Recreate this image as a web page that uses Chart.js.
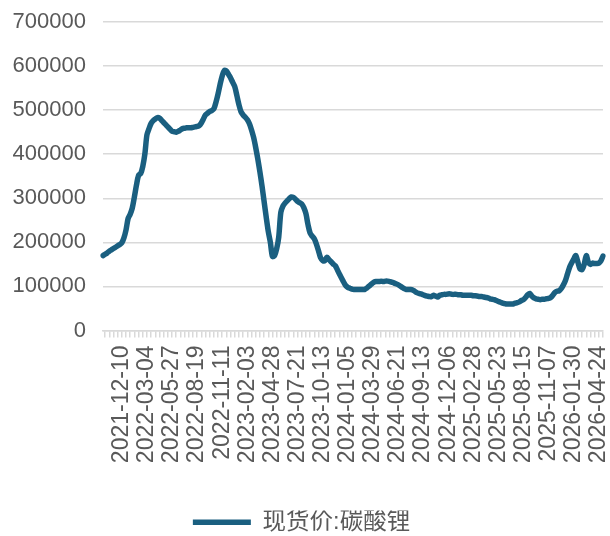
<!DOCTYPE html>
<html lang="zh">
<head>
    <meta charset="UTF-8">
    <title>现货价:碳酸锂</title>
    <script src="https://cdn.jsdelivr.net/npm/chart.js"></script>
    <style>
        html, body { margin: 0; padding: 0; background: #fff; }
    </style>
</head>
<body>
    <canvas id="priceChart" width="610" height="536"></canvas>

    <script>
        // weekly spot price, yuan/ton
        const startDate = '2021-10-08';
        const seriesName = '现货价:碳酸锂';
        const priceK = [
            170, 173, 176, 180, 183, 186, 189, 192, 195, 199,
            210, 228, 254, 264, 278, 303, 330, 352, 356, 372,
            400, 444, 458, 470, 476, 480, 483, 482, 477, 472,
            467, 462, 457, 452, 451, 450, 452, 455, 458, 459,
            460, 460, 460, 461, 462, 463, 465, 471, 480, 489,
            493, 497, 499, 503, 518, 537, 559, 578, 590, 589,
            581, 573, 563, 553, 533, 512, 496, 489, 484, 478,
            469, 455, 438, 415, 389, 360, 328, 293, 258, 225,
            200, 168, 170, 185, 212, 268, 282, 289, 294, 299,
            303, 302, 298, 293, 290, 287, 279, 265, 240, 221,
            214, 208, 196, 181, 165, 159, 158, 166, 161, 156,
            151, 147, 138, 128, 119, 110, 102, 98, 96, 94,
            93, 93, 93, 93, 93, 93, 96, 100, 104, 108,
            111, 111, 111, 112, 111, 112, 112, 111, 110, 108,
            106, 104, 101, 98, 95, 93, 93, 93, 92, 89,
            86, 84, 83, 81, 79, 78, 77, 77, 80, 78,
            76, 80, 81, 82, 82, 83, 83, 82, 82, 82,
            81, 81, 80, 80, 80, 80, 80, 79, 79, 78,
            77, 77, 76, 75, 74, 72, 71, 70, 68, 66,
            64, 62, 61, 60, 60, 60, 60, 62, 63, 65,
            68, 70, 75, 81, 84, 78, 74, 72, 71, 70,
            71, 71, 72, 73, 75, 80, 86, 89, 90, 95,
            103, 113, 128, 143, 153, 162, 170, 155, 140, 138,
            150, 170, 155, 150, 153, 152, 152, 153, 158, 169
        ];
        const tickLabels = [
            '2021-12-10', '2022-03-04', '2022-05-27', '2022-08-19', '2022-11-11',
            '2023-02-03', '2023-04-28', '2023-07-21', '2023-10-13', '2024-01-05',
            '2024-03-29', '2024-06-21', '2024-09-13', '2024-12-06', '2025-02-28',
            '2025-05-23', '2025-08-15', '2025-11-07', '2026-01-30', '2026-04-24'
        ];
        const yTicks = [0, 100000, 200000, 300000, 400000, 500000, 600000, 700000];

        // one category per week
        const dates = [];
        const d0 = new Date(startDate + 'T00:00:00Z');
        for (let i = 0; i < priceK.length; i++) {
            const d = new Date(d0.getTime() + i * 7 * 86400000);
            dates.push(d.toISOString().slice(0, 10));
        }
        const prices = priceK.map(v => v * 1000);

        const lineColor = '#1A5F80';
        const gridColor = '#D9D9D9';
        const textColor = '#595959';
        const fontFamily = '"Liberation Sans", "Noto Sans CJK SC", Arial, sans-serif';

        new Chart(document.getElementById('priceChart'), {
            type: 'line',
            data: {
                labels: dates,
                datasets: [{
                    label: seriesName,
                    data: prices,
                    borderColor: lineColor,
                    backgroundColor: lineColor,
                    borderWidth: 5.5,
                    borderCapStyle: 'round',
                    borderJoinStyle: 'round',
                    pointRadius: 0,
                    tension: 0.3
                }]
            },
            options: {
                responsive: false,
                animation: false,
                layout: { padding: { top: 22, right: 7, bottom: -8, left: 0 } },
                plugins: {
                    tooltip: { enabled: false },
                    legend: {
                        position: 'bottom',
                        labels: {
                            usePointStyle: true,
                            pointStyle: 'line',
                            pointStyleWidth: 58,
                            color: textColor,
                            padding: 0,
                            font: { family: fontFamily, size: 23.5 }
                        }
                    }
                },
                scales: {
                    x: {
                        offset: false,
                        grid: {
                            drawOnChartArea: false,
                            drawTicks: true,
                            tickLength: 7,
                            lineWidth: 1.5,
                            color: ctx => (ctx.index % 2 === 1 ? gridColor : 'rgba(0,0,0,0)')
                        },
                        border: { color: gridColor, width: 1.5 },
                        ticks: {
                            autoSkip: false,
                            maxRotation: 90,
                            minRotation: 90,
                            padding: 8,
                            color: textColor,
                            font: { family: fontFamily, size: 23 },
                            callback: (v, i) => (i >= 9 && (i - 9) % 12 === 0 ? tickLabels[(i - 9) / 12] : '')
                        },
                        afterFit: s => {
                            s.height = 180;
                            s.paddingLeft = 0;
                            s.paddingRight = 0;
                        }
                    },
                    y: {
                        min: 0,
                        max: 700000,
                        afterBuildTicks: s => { s.ticks = yTicks.map(v => ({ value: v })); },
                        grid: { color: gridColor, lineWidth: 1.5, drawTicks: false },
                        border: { display: false },
                        ticks: {
                            padding: 17,
                            color: textColor,
                            font: { family: fontFamily, size: 22 },
                            callback: v => String(v)
                        },
                        afterFit: s => {
                            s.width = 103;
                            s.paddingTop = 0;
                            s.paddingBottom = 0;
                        }
                    }
                }
            }
        });
    </script>
</body>
</html>
